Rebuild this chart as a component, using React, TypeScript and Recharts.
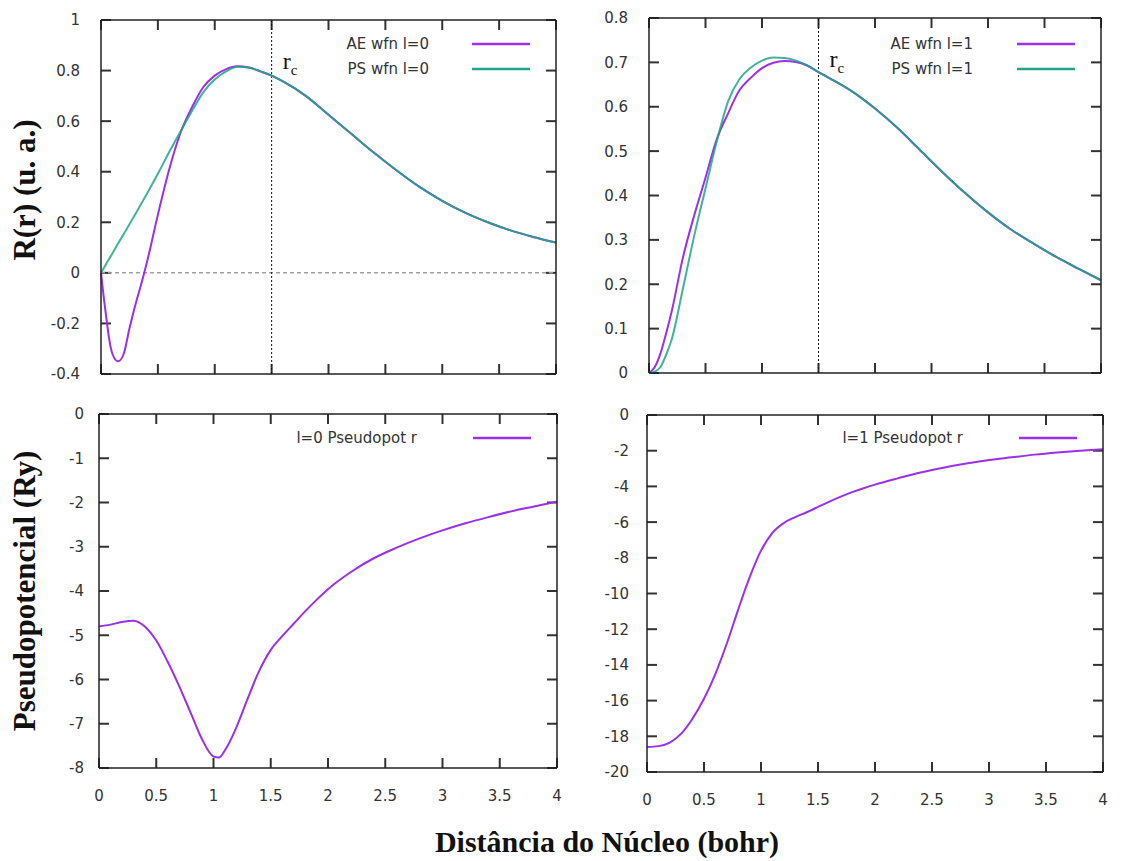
import { LineChart, Line, XAxis, YAxis, ReferenceLine, Legend } from "recharts";

// shared x ticks (bohr)
const xTicks = [0, 0.5, 1, 1.5, 2, 2.5, 3, 3.5, 4];

// wavefunctions l=0
const rWfn0 = [0, 0.025, 0.05, 0.075, 0.1, 0.15, 0.2, 0.25, 0.3, 0.35, 0.4, 0.5, 0.6, 0.7, 0.8, 0.9, 1.0, 1.1, 1.2, 1.3, 1.4, 1.5, 1.6, 1.8, 2.0, 2.2, 2.4, 2.6, 2.8, 3.0, 3.2, 3.4, 3.6, 3.8, 4.0];
const aeWfn0 = [0, -0.1, -0.19, -0.27, -0.32, -0.35, -0.32, -0.22, -0.13, -0.05, 0.035, 0.23, 0.41, 0.555, 0.655, 0.735, 0.78, 0.806, 0.817, 0.812, 0.797, 0.78, 0.757, 0.7, 0.625, 0.55, 0.475, 0.405, 0.34, 0.285, 0.238, 0.2, 0.168, 0.142, 0.12];
const psWfn0 = [0, 0.019, 0.039, 0.058, 0.077, 0.116, 0.154, 0.192, 0.231, 0.27, 0.31, 0.392, 0.478, 0.56, 0.64, 0.715, 0.765, 0.797, 0.815, 0.812, 0.797, 0.78, 0.757, 0.7, 0.625, 0.55, 0.475, 0.405, 0.34, 0.285, 0.238, 0.2, 0.168, 0.142, 0.12];
const yTicksWfn0 = [-0.4, -0.2, 0, 0.2, 0.4, 0.6, 0.8, 1];

// wavefunctions l=1
const rWfn1 = [0, 0.05, 0.1, 0.15, 0.2, 0.3, 0.4, 0.5, 0.6, 0.7, 0.8, 0.9, 1.0, 1.1, 1.2, 1.3, 1.4, 1.5, 1.6, 1.8, 2.0, 2.2, 2.4, 2.6, 2.8, 3.0, 3.2, 3.4, 3.6, 3.8, 4.0];
const aeWfn1 = [0, 0.013, 0.043, 0.088, 0.138, 0.26, 0.355, 0.44, 0.527, 0.585, 0.637, 0.665, 0.687, 0.699, 0.703, 0.701, 0.693, 0.678, 0.664, 0.634, 0.596, 0.552, 0.502, 0.452, 0.405, 0.362, 0.324, 0.292, 0.262, 0.235, 0.209];
const psWfn1 = [0, 0.003, 0.013, 0.04, 0.075, 0.19, 0.309, 0.416, 0.522, 0.612, 0.662, 0.688, 0.704, 0.711, 0.71, 0.704, 0.693, 0.678, 0.664, 0.634, 0.596, 0.552, 0.502, 0.452, 0.405, 0.362, 0.324, 0.292, 0.262, 0.235, 0.209];
const yTicksWfn1 = [0, 0.1, 0.2, 0.3, 0.4, 0.5, 0.6, 0.7, 0.8];

// pseudopotential l=0
const rPot0 = [0, 0.1, 0.2, 0.3, 0.4, 0.5, 0.6, 0.7, 0.8, 0.9, 1.0, 1.05, 1.1, 1.2, 1.3, 1.4, 1.5, 1.6, 1.7, 1.8, 1.9, 2.0, 2.2, 2.4, 2.6, 2.8, 3.0, 3.2, 3.4, 3.6, 3.8, 4.0];
const pot0 = [-4.8, -4.76, -4.7, -4.67, -4.8, -5.12, -5.6, -6.15, -6.75, -7.35, -7.74, -7.76, -7.6, -7.08, -6.42, -5.8, -5.33, -5.02, -4.74, -4.46, -4.2, -3.96, -3.57, -3.26, -3.02, -2.81, -2.63, -2.47, -2.33, -2.2, -2.09, -1.98];
const yTicksPot0 = [-8, -7, -6, -5, -4, -3, -2, -1, 0];

// pseudopotential l=1
const rPot1 = [0, 0.1, 0.2, 0.3, 0.4, 0.5, 0.6, 0.7, 0.8, 0.9, 1.0, 1.1, 1.2, 1.3, 1.4, 1.5, 1.6, 1.7, 1.8, 1.9, 2.0, 2.2, 2.4, 2.6, 2.8, 3.0, 3.2, 3.4, 3.6, 3.8, 4.0];
const pot1 = [-18.6, -18.55, -18.35, -17.85, -17.0, -15.9, -14.5, -12.8, -10.9, -9.1, -7.6, -6.6, -6.05, -5.72, -5.45, -5.15, -4.85, -4.57, -4.32, -4.1, -3.9, -3.55, -3.22, -2.95, -2.72, -2.52, -2.37, -2.22, -2.1, -2.0, -1.92];
const yTicksPot1 = [-20, -18, -16, -14, -12, -10, -8, -6, -4, -2, 0];

const PURPLE = "#9b30e8";
const GREEN = "#1fa688";
const AXIS = "#222";
const TICK_COLOR = "#333";
const SANS = "DejaVu Sans";
const SERIF = "Liberation Serif";
const TICK = 10;
const TICK_W = 2;
const X_GAP = 22;

type Series = { key: string; name: string; color: string; values: number[] };

const toRows = (r: number[], series: Series[]) =>
  r.map((x, i) => {
    const row: Record<string, number> = { r: x };
    series.forEach((s) => (row[s.key] = s.values[i]));
    return row;
  });

const tickText = { fill: "#333", fontSize: 15, fontFamily: SANS };

const LeftTick = (props: any) => {
  const { x, y, payload } = props;
  return (
    <text x={x} y={y} dy="0.36em" textAnchor="end" {...tickText}>
      {payload.value}
    </text>
  );
};

const BottomTick = (props: any) => {
  const { x, y, payload, labels } = props;
  if (!labels) return <g />;
  return (
    <text x={x} y={y} dy="0.75em" textAnchor="middle" {...tickText}>
      {payload.value}
    </text>
  );
};

const RcLabel = (props: any) => {
  const vb = props.viewBox || {};
  return (
    <text x={vb.x + 11} y={vb.y + 49} fontFamily={SERIF} fontSize={24} fill="#111">
      r
      <tspan fontSize={15} dy={6}>
        c
      </tspan>
    </text>
  );
};

const legendContent = (gap: number) => (props: any) => (
  <div style={{ fontFamily: SANS, fontSize: 15, color: "#333" }}>
    {(props.payload || []).map((e: any) => (
      <div
        key={e.value}
        style={{ display: "flex", alignItems: "center", justifyContent: "flex-end", height: 25 }}
      >
        <span>{e.value}</span>
        <svg width={58} height={4} style={{ marginLeft: gap }}>
          <line x1={0} y1={2} x2={58} y2={2} stroke={e.color} strokeWidth={2.5} />
        </svg>
      </div>
    ))}
  </div>
);

interface PanelProps {
  left: number;
  top: number;
  plotW: number;
  plotH: number;
  yDomain: [number, number];
  yTicks: number[];
  labelGap: number;
  showXLabels: boolean;
  r: number[];
  series: Series[];
  legendGap: number;
  legendTop: number;
  rc?: boolean;
  zeroLine?: boolean;
}

const YW = 70;

const Panel = (p: PanelProps) => {
  const data = toRows(p.r, p.series);
  const width = YW + p.plotW + 1 + 10;
  const height = 10 + p.plotH + 50;
  const line = { stroke: AXIS, strokeWidth: 1.5 };
  const [y0, y1] = p.yDomain;
  // inward tick length of TICK px, expressed in data units of each axis
  const dy = ((y1 - y0) * TICK) / p.plotH;
  const dx = (4 * TICK) / p.plotW;
  const tickSeg = { xAxisId: "b", yAxisId: "l", stroke: TICK_COLOR, strokeWidth: TICK_W, ifOverflow: "visible" as const };
  return (
    <div style={{ position: "absolute", left: p.left - YW, top: p.top - 10 }}>
      <LineChart width={width} height={height} data={data} margin={{ top: 9, right: 10, bottom: 0, left: 0 }}>
        <XAxis
          xAxisId="b"
          dataKey="r"
          type="number"
          domain={[0, 4]}
          ticks={xTicks}
          interval={0}
          height={50}
          tickSize={0}
          tickMargin={X_GAP}
          tick={<BottomTick labels={p.showXLabels} />}
          axisLine={line}
          tickLine={false}
        />
        <XAxis
          xAxisId="t"
          orientation="top"
          dataKey="r"
          type="number"
          domain={[0, 4]}
          height={1}
          tick={false}
          axisLine={line}
          tickLine={false}
        />
        <YAxis
          yAxisId="l"
          type="number"
          domain={p.yDomain}
          ticks={p.yTicks}
          interval={0}
          width={YW}
          tickSize={0}
          tickMargin={p.labelGap}
          tick={<LeftTick />}
          axisLine={line}
          tickLine={false}
        />
        <YAxis
          yAxisId="rt"
          orientation="right"
          type="number"
          domain={p.yDomain}
          width={1}
          tick={false}
          axisLine={line}
          tickLine={false}
        />
        {xTicks.map((t) => (
          <ReferenceLine key={`xb${t}`} {...tickSeg} segment={[{ x: t, y: y0 }, { x: t, y: y0 + dy }]} />
        ))}
        {xTicks.map((t) => (
          <ReferenceLine key={`xt${t}`} {...tickSeg} segment={[{ x: t, y: y1 - dy }, { x: t, y: y1 }]} />
        ))}
        {p.yTicks.map((t) => (
          <ReferenceLine key={`yl${t}`} {...tickSeg} segment={[{ x: 0, y: t }, { x: dx, y: t }]} />
        ))}
        {p.yTicks.map((t) => (
          <ReferenceLine key={`yr${t}`} {...tickSeg} segment={[{ x: 4 - dx, y: t }, { x: 4, y: t }]} />
        ))}
        {p.zeroLine && (
          <ReferenceLine xAxisId="b" yAxisId="l" y={0} stroke="#a0a0a0" strokeWidth={1.5} strokeDasharray="4 3" />
        )}
        {p.rc && (
          <ReferenceLine
            xAxisId="b"
            yAxisId="l"
            x={1.5}
            stroke="#111"
            strokeWidth={1}
            strokeDasharray="2 2"
            label={<RcLabel />}
          />
        )}
        {p.series.map((s, i) => (
          <Line
            key={s.key}
            xAxisId="b"
            yAxisId="l"
            type="monotone"
            dataKey={s.key}
            name={s.name}
            stroke={s.color}
            strokeWidth={2}
            strokeOpacity={i > 0 ? 0.85 : 1}
            dot={false}
            isAnimationActive={false}
          />
        ))}
        <Legend
          layout="vertical"
          align="center"
          verticalAlign="middle"
          content={legendContent(p.legendGap)}
          wrapperStyle={{ left: YW + p.plotW - 26 - 320, top: 10 + p.legendTop - 12, width: 320 }}
        />
      </LineChart>
    </div>
  );
};

export default function App() {
  return (
    <div style={{ position: "absolute", left: 0, top: 0, width: 1131, height: 861, background: "#fff" }}>
      <Panel
        left={101}
        top={19.5}
        plotW={455}
        plotH={354}
        yDomain={[-0.4, 1]}
        yTicks={yTicksWfn0}
        labelGap={21}
        showXLabels={false}
        r={rWfn0}
        series={[
          { key: "ae", name: "AE wfn l=0", color: PURPLE, values: aeWfn0 },
          { key: "ps", name: "PS wfn l=0", color: GREEN, values: psWfn0 },
        ]}
        legendGap={43}
        legendTop={24}
        rc
        zeroLine
      />
      <Panel
        left={649}
        top={18}
        plotW={452}
        plotH={355}
        yDomain={[0, 0.8]}
        yTicks={yTicksWfn1}
        labelGap={21}
        showXLabels={false}
        r={rWfn1}
        series={[
          { key: "ae", name: "AE wfn l=1", color: PURPLE, values: aeWfn1 },
          { key: "ps", name: "PS wfn l=1", color: GREEN, values: psWfn1 },
        ]}
        legendGap={44}
        legendTop={25}
        rc
      />
      <Panel
        left={99}
        top={414}
        plotW={458}
        plotH={354}
        yDomain={[-8, 0]}
        yTicks={yTicksPot0}
        labelGap={15}
        showXLabels
        r={rPot0}
        series={[{ key: "v", name: "l=0 Pseudopot r", color: PURPLE, values: pot0 }]}
        legendGap={56}
        legendTop={23}
      />
      <Panel
        left={647}
        top={415}
        plotW={456}
        plotH={357}
        yDomain={[-20, 0]}
        yTicks={yTicksPot1}
        labelGap={18}
        showXLabels
        r={rPot1}
        series={[{ key: "v", name: "l=1 Pseudopot r", color: PURPLE, values: pot1 }]}
        legendGap={56}
        legendTop={22}
      />
      <svg width={1131} height={861} style={{ position: "absolute", left: 0, top: 0, pointerEvents: "none" }}>
        <text
          transform="translate(35,190) rotate(-90)"
          textAnchor="middle"
          fontFamily={SERIF}
          fontWeight="bold"
          fontSize={31}
          fill="#111"
        >
          R(r) (u. a.)
        </text>
        <text
          transform="translate(35,591) rotate(-90)"
          textAnchor="middle"
          fontFamily={SERIF}
          fontWeight="bold"
          fontSize={31}
          fill="#111"
        >
          Pseudopotencial (Ry)
        </text>
        <text x={607} y={852} textAnchor="middle" fontFamily={SERIF} fontWeight="bold" fontSize={30} fill="#111">
          Distância do Núcleo (bohr)
        </text>
      </svg>
    </div>
  );
}
